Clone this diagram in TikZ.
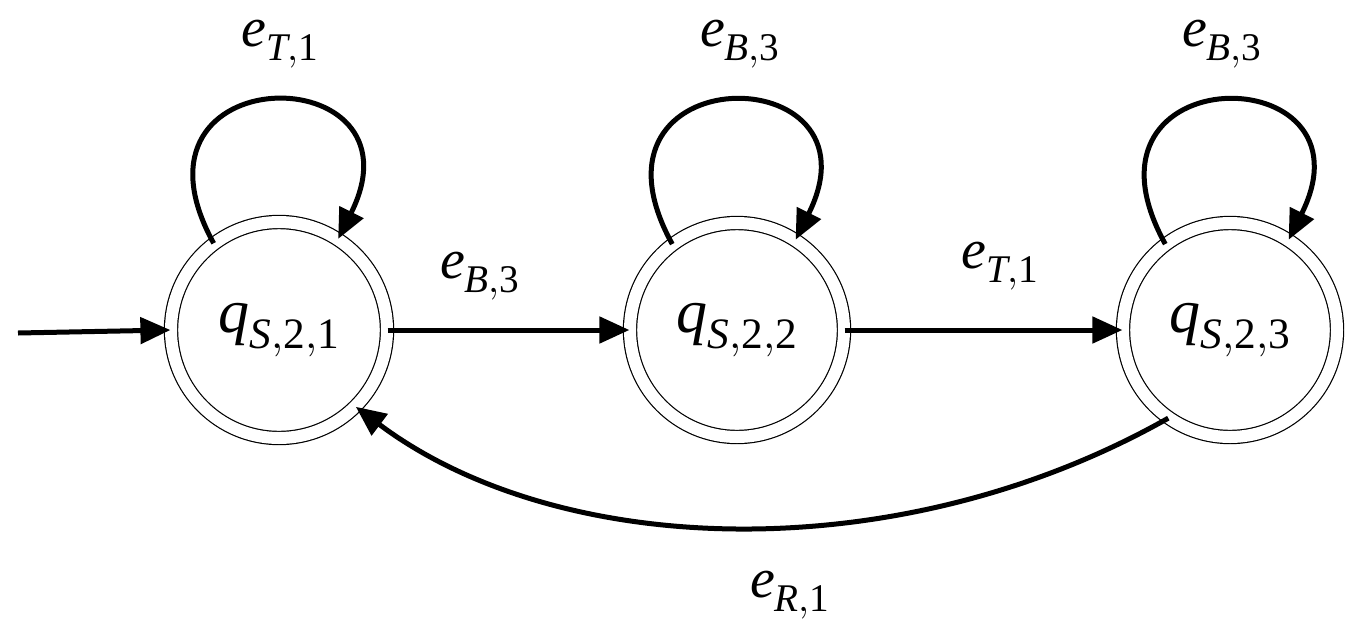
\documentclass[tikz,border=0pt]{standalone}
\usepackage{fontspec}
\setmainfont{Liberation Serif}
\usepackage{unicode-math}
\setmathfont{Latin Modern Math}
\setmathfont[range=it]{Liberation Serif Italic}
\setmathfont[range=up/num]{Liberation Serif}
\usetikzlibrary{arrows.meta}
\begin{document}
\begin{tikzpicture}[x=1pt,y=-1pt,
  st/.style={circle,draw,line width=1.2pt,minimum size=228pt,inner sep=0pt,
    double,double distance=12pt,font=\fontsize{62}{70}\selectfont},
  ed/.style={line width=5pt,-{Triangle[length=30pt,width=26pt]}},
  lb/.style={font=\fontsize{56}{64}\selectfont}]
\useasboundingbox (0,0) rectangle (1360,641);
\node[st,minimum size=216pt] (s1) at (279,330) {$q_{S,2,1}$};
\node[st,minimum size=214pt] (s2) at (737,330) {$q_{S,2,2}$};
\node[st,minimum size=214pt] (s3) at (1230,330) {$q_{S,2,3}$};
\coordinate (init) at (18,333);
\draw[ed] (init) -- (s1.180);
\draw[ed] (s1.127) .. controls (110,55) and (430,55) .. (s1.57);
\draw[ed] (s2.127) .. controls (568,55) and (888,55) .. (s2.57);
\draw[ed] (s3.127) .. controls (1061,55) and (1381,55) .. (s3.57);
\draw[ed] (s1.east) -- (s2.west);
\draw[ed] (s2.east) -- (s3.west);
\draw[ed] (s3.-125) .. controls (900,570) and (560,560) .. (s1.-45);
\node[lb] (l1) at (280,44) {$e_{T,1}$};
\node[lb] (l2) at (740,44) {$e_{B,3}$};
\node[lb] (l3) at (1222,44) {$e_{B,3}$};
\node[lb] (l4) at (480,276) {$e_{B,3}$};
\node[lb] (l5) at (1000,266) {$e_{T,1}$};
\node[lb] (l6) at (790,595) {$e_{R,1}$};
\end{tikzpicture}
\end{document}
